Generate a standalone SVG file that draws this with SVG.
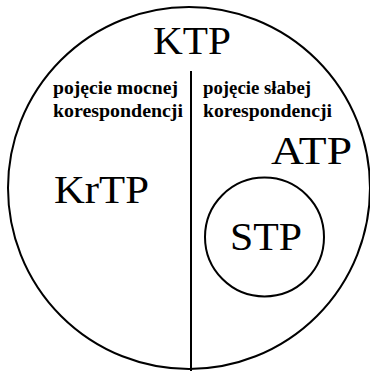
<svg xmlns="http://www.w3.org/2000/svg" width="370" height="371" viewBox="0 0 370 371">
<style>
.ln{fill:none;stroke:#000;stroke-width:2}
text{font-family:"Liberation Serif",Tinos,"Noto Serif","DejaVu Serif",Times,"Nimbus Roman","FreeSerif",serif;fill:#000}
.big{font-size:41px}
.lbl{font-size:18px;font-weight:bold}
</style>
<rect width="370" height="371" fill="#fff"/>
<g id="connectors">
<line class="ln" x1="191" y1="71" x2="191" y2="371"/>
</g>
<g id="KTP">
<circle class="ln" cx="189" cy="188" r="181"/>
<text class="big" x="153" y="54" textLength="78" lengthAdjust="spacingAndGlyphs">KTP</text>
</g>
<g id="strong">
<text class="lbl" x="53" y="94" textLength="125" lengthAdjust="spacingAndGlyphs">pojęcie mocnej</text>
<text class="lbl" x="53" y="117" textLength="130" lengthAdjust="spacingAndGlyphs">korespondencji</text>
</g>
<g id="weak">
<text class="lbl" x="203" y="94" textLength="108" lengthAdjust="spacingAndGlyphs">pojęcie słabej</text>
<text class="lbl" x="203" y="117" textLength="129" lengthAdjust="spacingAndGlyphs">korespondencji</text>
</g>
<g id="KrTP">
<text class="big" x="54" y="203" textLength="95" lengthAdjust="spacingAndGlyphs">KrTP</text>
</g>
<g id="ATP">
<text class="big" x="271" y="164" textLength="81" lengthAdjust="spacingAndGlyphs">ATP</text>
</g>
<g id="STP">
<circle class="ln" cx="264.5" cy="237" r="59.5"/>
<text class="big" x="230" y="250" textLength="72" lengthAdjust="spacingAndGlyphs">STP</text>
</g>
</svg>
